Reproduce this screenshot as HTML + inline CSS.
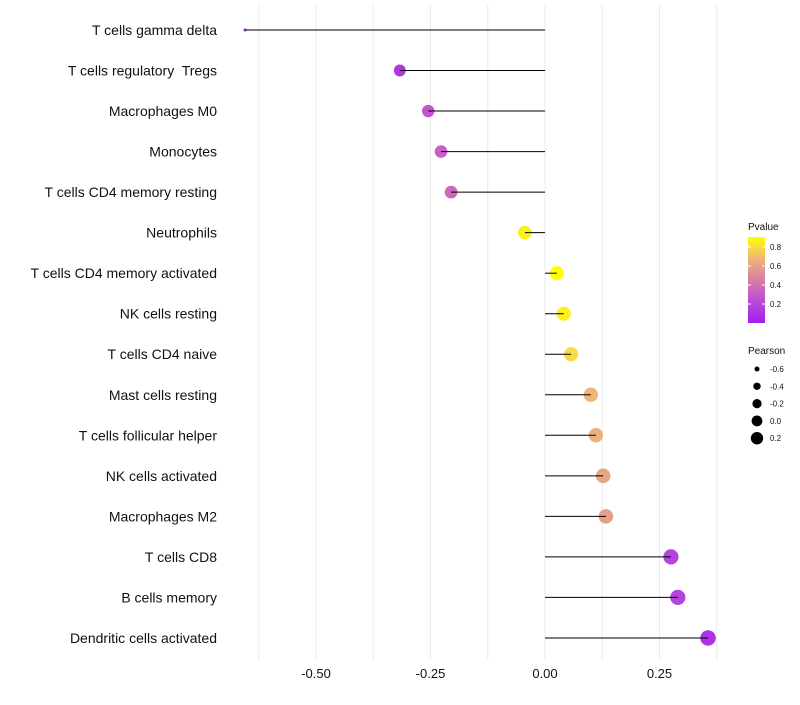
<!DOCTYPE html>
<html><head><meta charset="utf-8"><style>
body{margin:0;background:#fff;font-family:"Liberation Sans",sans-serif}
text{white-space:pre}
</style></head><body>
<svg id="chart" width="800" height="700" xmlns="http://www.w3.org/2000/svg"></svg>
<script>
const categories=["T cells gamma delta","T cells regulatory  Tregs","Macrophages M0","Monocytes","T cells CD4 memory resting","Neutrophils","T cells CD4 memory activated","NK cells resting","T cells CD4 naive","Mast cells resting","T cells follicular helper","NK cells activated","Macrophages M2","T cells CD8","B cells memory","Dendritic cells activated"];
const pearson=[-0.655,-0.317,-0.255,-0.227,-0.205,-0.044,0.026,0.041,0.057,0.100,0.111,0.127,0.133,0.275,0.290,0.356];
const pvalues=[0.05,0.12,0.28,0.32,0.36,0.86,0.92,0.86,0.8,0.68,0.66,0.61,0.59,0.18,0.18,0.1];
const xTicks=[-0.5,-0.25,0,0.25];
const xTickLabels=["-0.50","-0.25","0.00","0.25"];
const legP=[0.8,0.6,0.4,0.2];
const legS=[-0.6,-0.4,-0.2,0.0,0.2];

const NS="http://www.w3.org/2000/svg";
const svg=document.getElementById('chart');
function el(t,a,p){const e=document.createElementNS(NS,t);for(const k in a)e.setAttribute(k,a[k]);(p||svg).appendChild(e);return e;}
const x=v=>545+v*458;
const y=i=>30+i*40.53;
function col(p){
  const stops=[[0,[160,32,240]],[0.3,[196,90,205]],[0.55,[225,150,140]],[0.75,[245,200,110]],[0.9,[255,255,0]]];
  p=Math.max(0,Math.min(0.9,p));
  for(let i=0;i<stops.length-1;i++){const[a,ca]=stops[i],[b,cb]=stops[i+1];if(p<=b){const t=(p-a)/(b-a);return`rgb(${ca.map((c,j)=>Math.round(c+(cb[j]-c)*t)).join(',')})`;}}
}
const vmin=-0.655,vmax=0.356;
const rad=v=>Math.sqrt(2.25+Math.sqrt((v-vmin)/(vmax-vmin))*(60-2.25));

for(let v=-0.625;v<=0.38;v+=0.125){
  const g=el('line',{x1:x(v),x2:x(v),y1:5,y2:660,stroke:'#ebebeb','stroke-width':1});
  
  
}
xTicks.forEach((v,i)=>{
  const t=el('text',{x:x(v),y:678,'text-anchor':'middle','font-size':13,fill:'#111'});
  t.textContent=xTickLabels[i];
  
  
});
categories.forEach((c,i)=>{
  const t=el('text',{x:217,y:y(i)+5,'text-anchor':'end','font-size':14,fill:'#111'});
  t.textContent=c;
  
  
  const pt=el('circle',{cx:x(pearson[i]),cy:y(i),r:rad(pearson[i]),fill:col(pvalues[i])});
  
  
  const ln=el('line',{x1:x(0),x2:x(pearson[i]),y1:y(i),y2:y(i),stroke:'#000','stroke-width':1});
  
  
});
const lg=el('g',{});


const defs=el('defs',{});
const grad=el('linearGradient',{id:'pg',x1:0,y1:1,x2:0,y2:0},defs);
[0,0.3,0.55,0.75,1].forEach(o=>el('stop',{offset:o,'stop-color':col(o*0.9)},grad));
el('text',{x:748,y:230,'font-size':10,fill:'#111'},lg).textContent='Pvalue';
el('rect',{x:748,y:237,width:17,height:86,fill:'url(#pg)'},lg);
const py=p=>323-p*95;
legP.forEach(p=>{
  el('line',{x1:748,x2:751,y1:py(p),y2:py(p),stroke:'#fff'},lg);
  el('line',{x1:762,x2:765,y1:py(p),y2:py(p),stroke:'#fff'},lg);
  el('text',{x:770,y:py(p)+3,'font-size':8,fill:'#111'},lg).textContent=p.toFixed(1);
});
const sg=el('g',{});


el('text',{x:748,y:354,'font-size':10,fill:'#111'},sg).textContent='Pearson';
const lr=[2.5,3.7,4.6,5.4,6.2];
legS.forEach((s,i)=>{
  const yy=369+i*17.3;
  el('circle',{cx:757,cy:yy,r:lr[i],fill:'#000'},sg);
  el('text',{x:770,y:yy+3,'font-size':8,fill:'#111'},sg).textContent=s.toFixed(1);
});
</script>
</body></html>
